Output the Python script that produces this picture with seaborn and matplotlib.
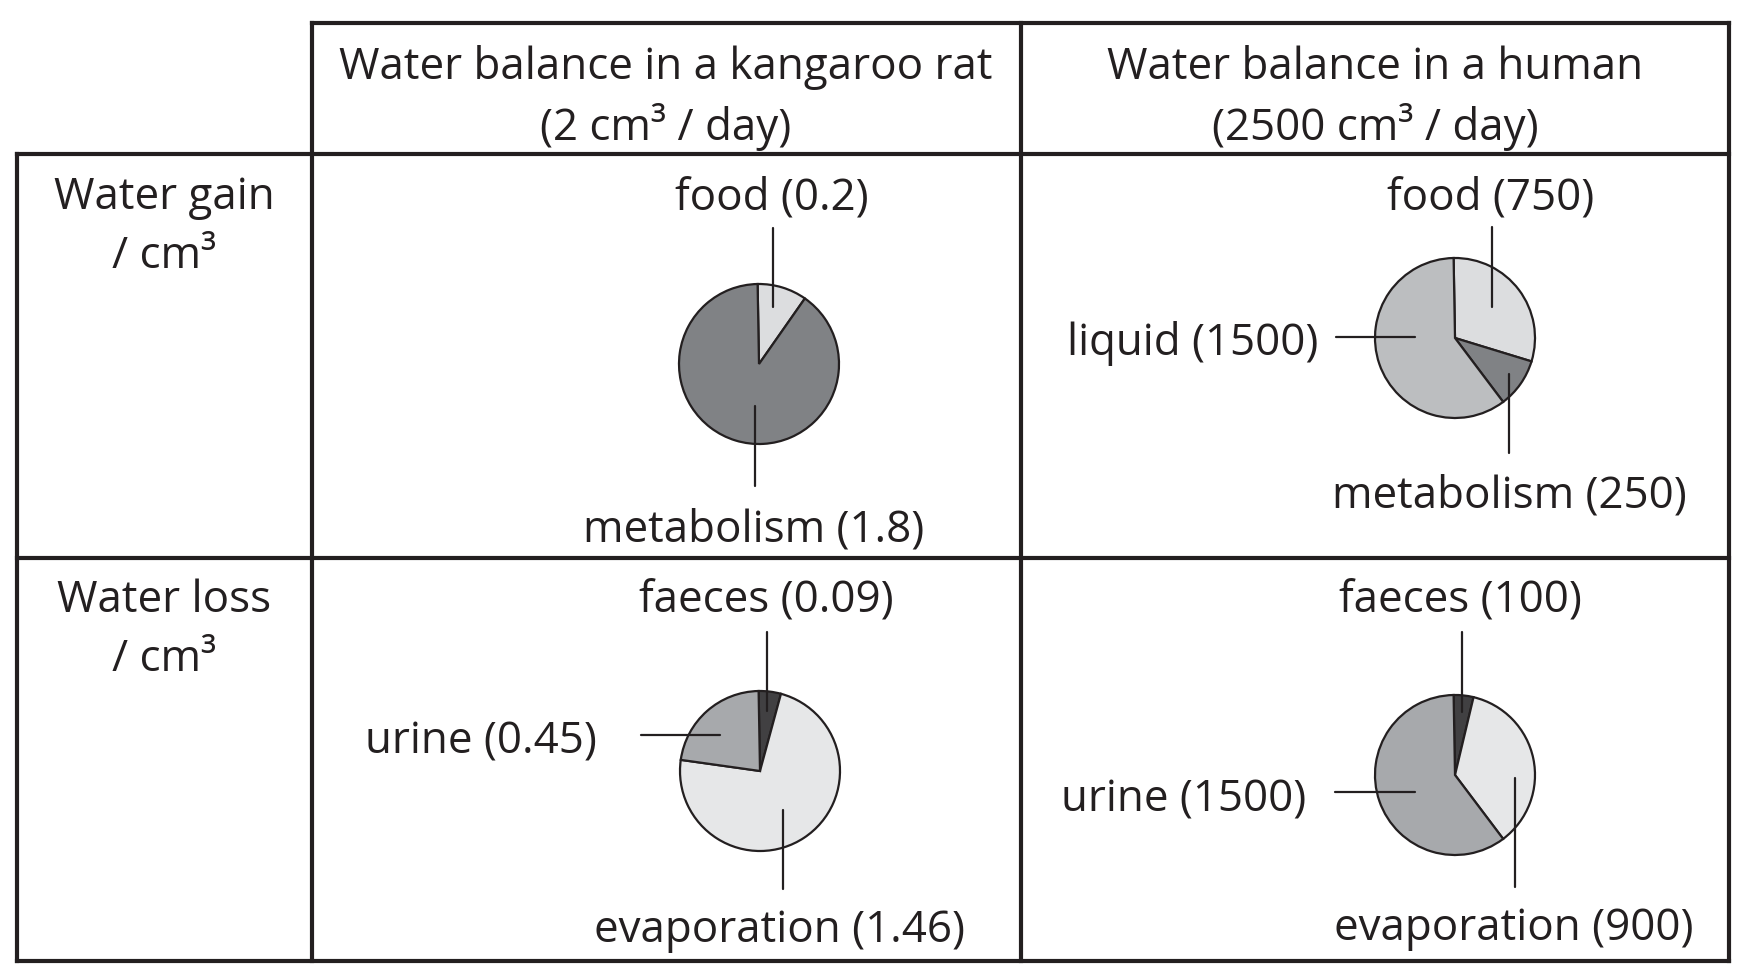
import matplotlib
matplotlib.use("Agg")
import matplotlib.pyplot as plt
import seaborn as sns

# pie data
rat_gain_labels = ["food", "metabolism"]
rat_gain = [0.2, 1.8]
human_gain_labels = ["food", "metabolism", "liquid"]
human_gain = [750, 250, 1500]
rat_loss_labels = ["faeces", "evaporation", "urine"]
rat_loss = [0.09, 1.46, 0.45]
human_loss_labels = ["faeces", "evaporation", "urine"]
human_loss = [100, 900, 1500]

col_titles = ["Water balance in a kangaroo rat\n(2 cm³ / day)",
              "Water balance in a human\n(2500 cm³ / day)"]
row_titles = ["Water gain\n/ cm³", "Water loss\n/ cm³"]

shade = {"food": "#dcdddf", "metabolism": "#808285", "liquid": "#bcbec0",
         "faeces": "#414042", "evaporation": "#e6e7e8", "urine": "#a7a9ac"}

sns.set_style("white")
plt.rcParams["font.family"] = ["Open Sans", "DejaVu Sans"]

W, H = 1750, 978
fig = plt.figure(figsize=(W / 100, H / 100), dpi=100)
ink = "#231f20"
fs = 31.6
dy = 4  # small vertical nudge for text


def add_pie(cx, cy, labels, values):
    R = 80
    half = 200
    ax = fig.add_axes([(cx - half) / W, (H - cy - half) / H, 2 * half / W, 2 * half / H])
    ax.pie(values, colors=[shade[l] for l in labels], startangle=91, counterclock=False,
           wedgeprops=dict(edgecolor=ink, linewidth=1.6))
    ax.set_xlim(-half / R, half / R)
    ax.set_ylim(-half / R, half / R)
    ax.axis("off")


add_pie(759, 365, rat_gain_labels, rat_gain)
add_pie(1455, 339, human_gain_labels, human_gain)
add_pie(760, 772, rat_loss_labels, rat_loss)
add_pie(1455, 776, human_loss_labels, human_loss)

# overlay in pixel coords for table grid, labels and leader lines
ov = fig.add_axes([0, 0, 1, 1], facecolor="none")
ov.set_xlim(0, W)
ov.set_ylim(H, 0)
ov.axis("off")

lw = 3
for y, x0 in [(24, 312), (155, 17), (559, 17), (962, 17)]:
    ov.plot([x0, 1729], [y, y], color=ink, lw=lw, solid_capstyle="projecting")
for x, y0 in [(17, 155), (312, 24), (1021, 24), (1729, 24)]:
    ov.plot([x, x], [y0, 962], color=ink, lw=lw, solid_capstyle="projecting")


def label(x, y, text, ha="center"):
    ov.text(x, y + dy, text, ha=ha, va="center", fontsize=fs, color=ink)


for x, t in zip([666, 1375], col_titles):
    l1, l2 = t.split("\n")
    label(x, 64, l1)
    label(x, 123, l2)
for y, t in zip([194, 597], row_titles):
    l1, l2 = t.split("\n")
    label(164, y, l1)
    label(164, y + 59, l2)


def lead(x0, y0, x1, y1):
    ov.plot([x0, x1], [y0, y1], color=ink, lw=1.6)


# kangaroo rat gain
label(772, 194, f"food ({rat_gain[0]:g})")
lead(773, 229, 773, 308)
label(754, 526, f"metabolism ({rat_gain[1]:g})")
lead(755, 407, 755, 487)

# human gain
label(1491, 194, f"food ({human_gain[0]})")
lead(1492, 228, 1492, 308)
label(1318, 340, f"liquid ({human_gain[2]})", ha="right")
lead(1336, 338, 1415, 338)
label(1509, 492, f"metabolism ({human_gain[1]})")
lead(1509, 375, 1509, 454)

# kangaroo rat loss
label(766, 597, f"faeces ({rat_loss[0]:g})")
lead(767, 633, 767, 712)
label(597, 738, f"urine ({rat_loss[2]:g})", ha="right")
lead(641, 736, 720, 736)
label(779, 927, f"evaporation ({rat_loss[1]:g})")
lead(783, 811, 783, 890)

# human loss
label(1460, 597, f"faeces ({human_loss[0]})")
lead(1462, 633, 1462, 713)
label(1306, 796, f"urine ({human_loss[2]})", ha="right")
lead(1335, 793, 1415, 793)
label(1514, 925, f"evaporation ({human_loss[1]})")
lead(1515, 779, 1515, 888)

fig.savefig("out.png", dpi=100, facecolor="white")
